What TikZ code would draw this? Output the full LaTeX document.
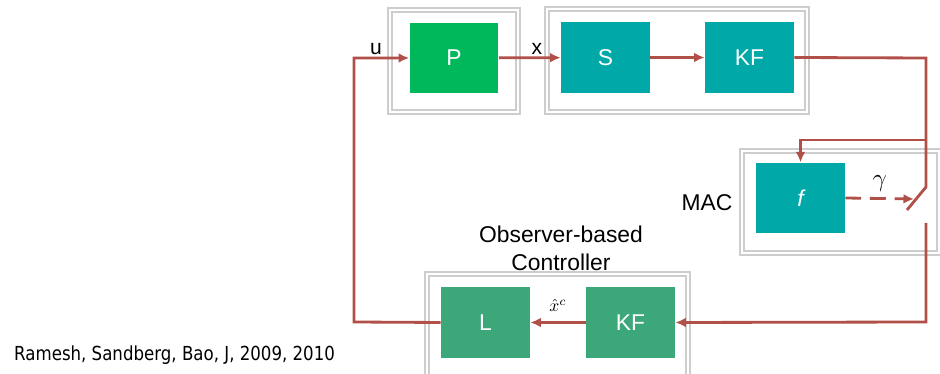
\documentclass[tikz,border=0pt]{standalone}
\usepackage{fontspec}
\setmainfont{Liberation Sans}
\newfontfamily\credfont{DejaVu Sans}[FakeStretch=0.86]
\usepackage{tikz}
\usetikzlibrary{arrows.meta}
\usepackage{xcolor}
\definecolor{plantgreen}{RGB}{0, 184, 92}
\definecolor{blockteal}{RGB}{0, 168, 168}
\definecolor{ctrlgreen}{RGB}{60, 168, 122}
\definecolor{sigred}{RGB}{176, 80, 72}
\definecolor{framegray}{RGB}{205, 205, 205}

\tikzset{
  blk/.style={minimum width=1.78cm, minimum height=1.41cm, inner sep=0pt,
    text=white, font=\fontsize{13}{15}\selectfont},
  frm/.style={draw=framegray, double, double distance=1.5pt, line width=0.8pt},
  sig/.style={draw=sigred, line width=1.6pt},
  sigarr/.style={sig, -{Latex[length=6pt,width=5.5pt]}},
  lbl/.style={font=\fontsize{13}{16}\selectfont, align=center}
}

\begin{document}
\begin{tikzpicture}[x=0.02cm, y=-0.02cm]
		\clip (0,0) rectangle (940,374);
		% Marcos
		\draw[frm] (390,10) rectangle (518,112);
		\draw[frm] (547,9) rectangle (807,112);
		\draw[frm] (742,151) rectangle (939,253);
		\draw[frm] (427,274) rectangle (688,390);
		
		% Bloques
		\node[blk, fill=plantgreen] (P) at (454,58) {P};
		\node[blk, fill=blockteal] (S) at (605.5,57.5) {S};
		\node[blk, fill=blockteal] (KF) at (749.5,57.5) {KF};
		\node[blk, fill=blockteal] (f) at (800.5,198) {\itshape f};
		\node[blk, fill=ctrlgreen] (L) at (485.5,322.5) {L};
		\node[blk, fill=ctrlgreen] (KFc) at (630.5,322.5) {KF};
		
		% Textos
		\node[lbl] (mac) at (707,203) {MAC};
		\node[lbl] (obs) at (561,248) {Observer-based\\Controller};
		\node[lbl, font=\fontsize{12}{14}\selectfont] (ulab) at (376,49) {u};
		\node[lbl, font=\fontsize{12}{14}\selectfont] (xlab) at (537,49) {x};
		\node[anchor=west, font=\credfont\fontsize{11}{13}\selectfont] (cred) at (8,355) {Ramesh, Sandberg, Bao, J, 2009, 2010};
		
		% Puntos del interruptor
		\coordinate (kfout) at (926,58);
		\coordinate (br) at (926,140);
		\coordinate (swtop) at (926,187);
		\coordinate (swend) at (907,210);
		\coordinate (swhit) at (914,199);
		\coordinate (swbot) at (926,223);
		\coordinate (kfin) at (926,322);
		\coordinate (lout) at (354,322);
		\coordinate (uin) at (354,58);
		
		% Conexiones
		\draw[sigarr] (P) -- (S);
		\draw[sigarr] (S) -- (KF);
		\draw[sig] (KF.east) -- (kfout) -- (swtop) -- (swend);
		\draw[sigarr] (br) -| (f.north);
		\draw[sigarr, dashed, dash pattern=on 9pt off 5pt] (f.east) -- node[above, text=black, pos=0.5, font=\Large] (gam) {$\gamma$} (swhit);
		\draw[sigarr] (swbot) -- (kfin) -- (KFc.east);
		\draw[sigarr] (KFc) -- node[above=2pt, text=black] (xhat) {$\hat{x}^c$} (L);
		\draw[sigarr] (L.west) -- (lout) -- (uin) -- (P.west);
	\end{tikzpicture}
\end{document}
